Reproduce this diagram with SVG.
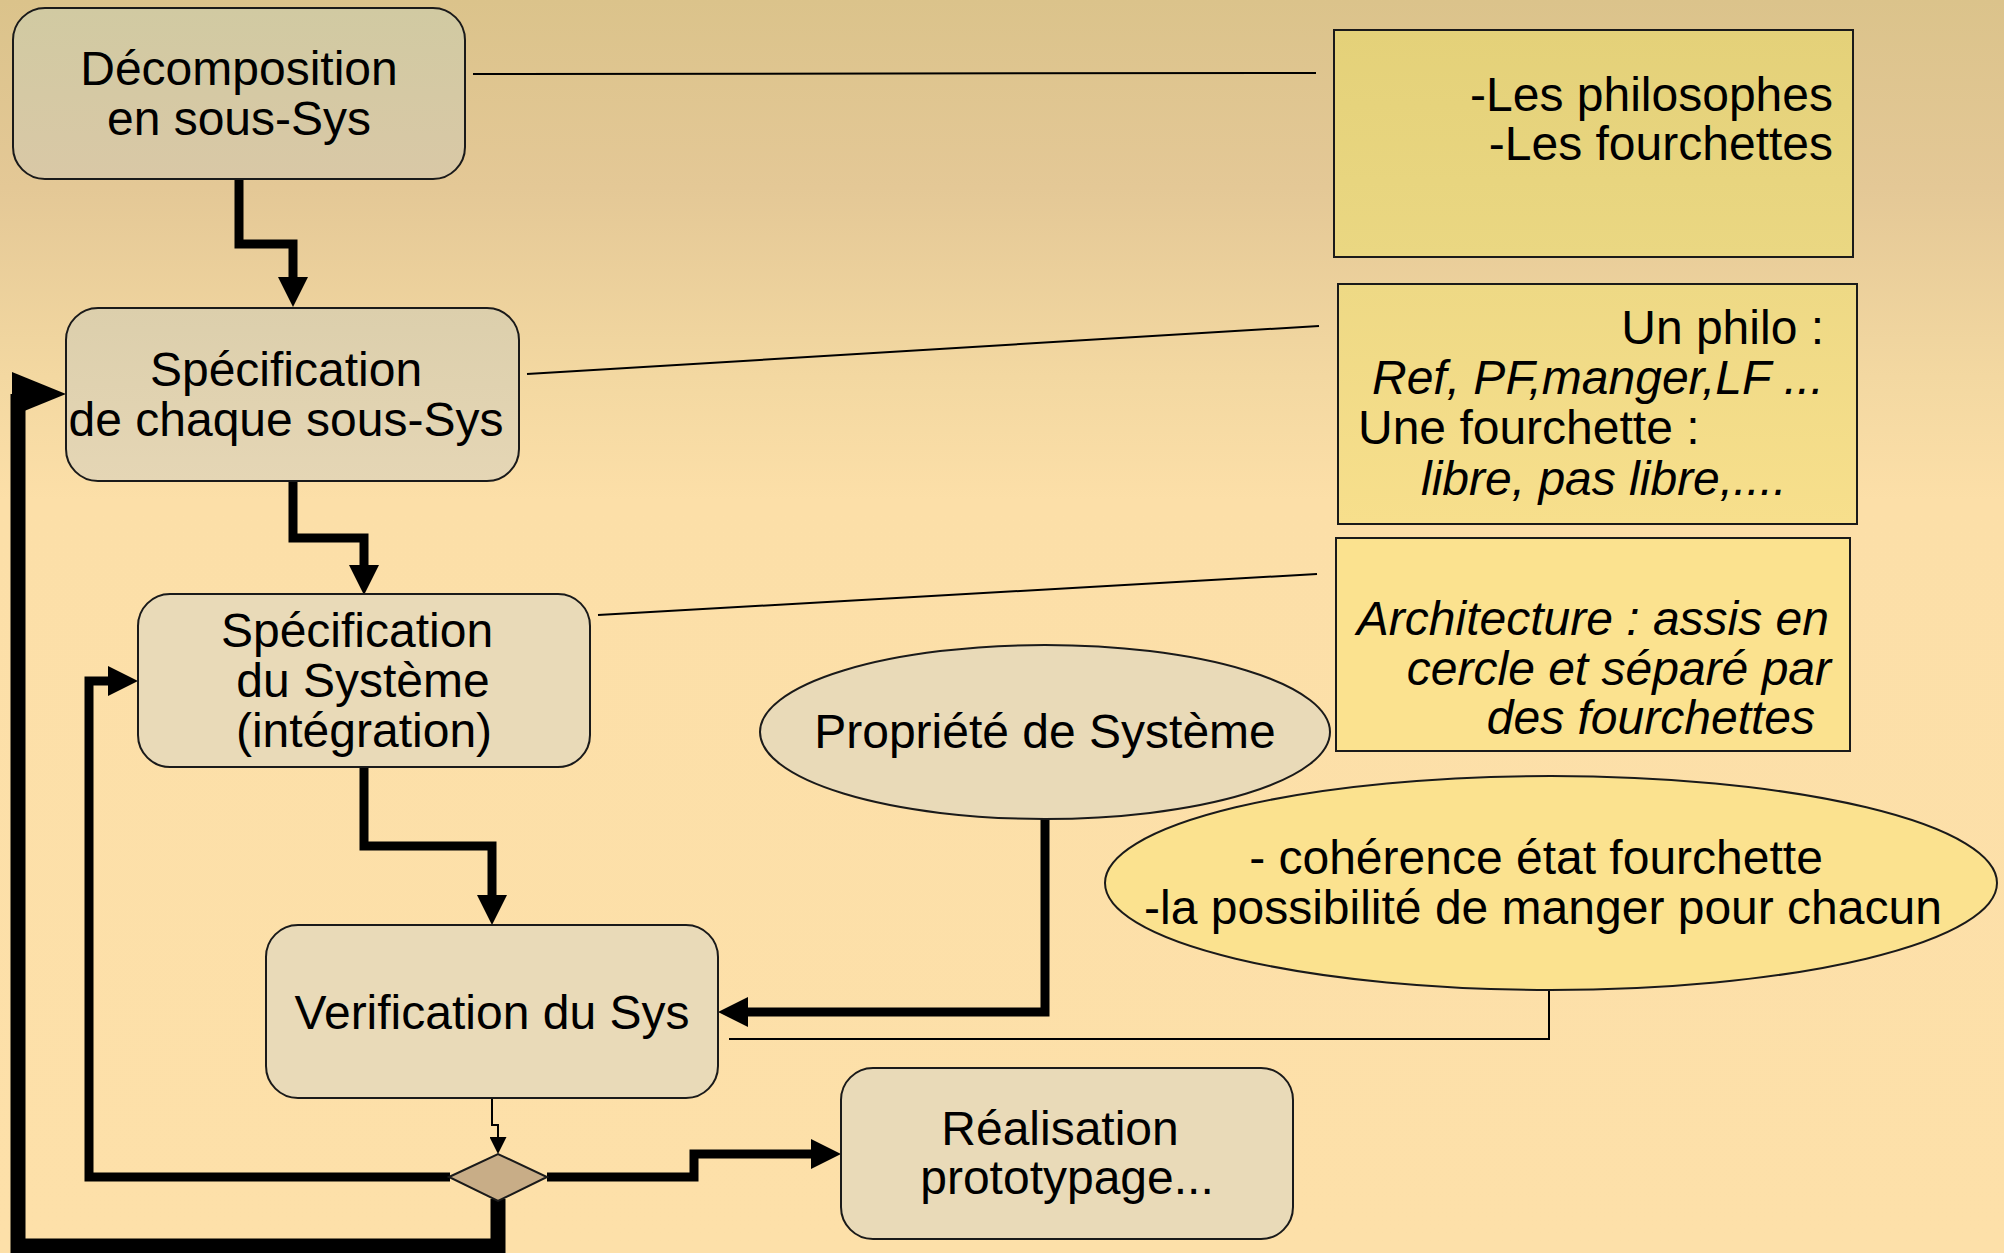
<svg xmlns="http://www.w3.org/2000/svg" width="2004" height="1253" viewBox="0 0 2004 1253">
  <defs>
    <linearGradient id="bg" x1="0" y1="0" x2="0" y2="1253" gradientUnits="userSpaceOnUse">
      <stop offset="0" stop-color="#dbc38b"/>
      <stop offset="0.15" stop-color="#e4c896"/>
      <stop offset="0.3" stop-color="#f3d8a1"/>
      <stop offset="0.4" stop-color="#fcdfa8"/>
      <stop offset="1" stop-color="#fde0a9"/>
    </linearGradient>
    <linearGradient id="g-top" x1="0" y1="0" x2="0" y2="1">
      <stop offset="0" stop-color="#d1caa2"/>
      <stop offset="1" stop-color="#d9c8a6"/>
    </linearGradient>
    <linearGradient id="g-sub" x1="0" y1="0" x2="0" y2="1">
      <stop offset="0" stop-color="#dccfac"/>
      <stop offset="1" stop-color="#e5d6b5"/>
    </linearGradient>
    <linearGradient id="y-top" x1="0" y1="0" x2="0" y2="1">
      <stop offset="0" stop-color="#e4d179"/>
      <stop offset="1" stop-color="#ead782"/>
    </linearGradient>
    <linearGradient id="y-mid" x1="0" y1="0" x2="0" y2="1">
      <stop offset="0" stop-color="#eed985"/>
      <stop offset="1" stop-color="#f7df8c"/>
    </linearGradient>
    <marker id="ah" markerUnits="userSpaceOnUse" markerWidth="30" markerHeight="30" viewBox="0 0 30 30" refX="2" refY="15" orient="auto">
      <path d="M0,0 L30,15 L0,30 z" fill="#000"/>
    </marker>
    <marker id="ah-small" markerUnits="userSpaceOnUse" markerWidth="17" markerHeight="17" viewBox="0 0 17 17" refX="1" refY="8.5" orient="auto">
      <path d="M0,0 L17,8.5 L0,17 z" fill="#000"/>
    </marker>
    <style>
      .node { stroke: #1a1a1a; stroke-width: 2; }
      .plain { fill: #e9dab8; }
      .note { stroke: #1a1a1a; stroke-width: 2; }
      .t { font-family: "Liberation Sans", Arial, sans-serif; font-size: 48px; fill: #000; }
      .c { text-anchor: middle; }
      .e { text-anchor: end; }
      .i { font-style: italic; }
      .flow { fill: none; stroke: #000; stroke-width: 9; stroke-linejoin: miter; marker-end: url(#ah); }
      .loop { fill: none; stroke: #000; stroke-width: 15; stroke-linejoin: miter; }
      .link { fill: none; stroke: #000; stroke-width: 2; }
    </style>
  </defs>

  <rect x="0" y="0" width="2004" height="1253" fill="url(#bg)"/>

  <!-- connectors -->
  <g id="connectors">
    <line class="link" x1="473" y1="74" x2="1316" y2="73"/>
    <line class="link" x1="527" y1="374" x2="1319" y2="326"/>
    <line class="link" x1="598" y1="615" x2="1317" y2="574"/>
    <path class="link" d="M1549,990 V1039 H729"/>

    <path class="flow" d="M239,180 V244 H293 V279"/>
    <path class="flow" d="M293,481 V538 H364 V567"/>
    <path class="flow" d="M364,767 V846 H492 V897"/>
    <path class="flow" d="M1045,819 V1012 H746"/>
    <path class="flow" d="M450,1177 H89 V681 H110"/>
    <path class="flow" d="M547,1177 H694 V1154 H813"/>

    <path fill="none" stroke="#000" stroke-width="2" d="M492,1098 V1125 H498 V1138" marker-end="url(#ah-small)"/>

    <path class="loop" d="M498,1199 V1246 H18 V394"/>
    <polygon points="12,372 66,394 12,416" fill="#000"/>
  </g>

  <!-- process steps -->
  <g id="decomposition">
    <rect class="node" x="13" y="8" width="452" height="171" rx="32" fill="url(#g-top)"/>
    <text class="t c" x="239" y="85">Décomposition</text>
    <text class="t c" x="239" y="135">en sous-Sys</text>
  </g>

  <g id="spec-sous-sys">
    <rect class="node" x="66" y="308" width="453" height="173" rx="32" fill="url(#g-sub)"/>
    <text class="t c" x="286" y="386">Spécification</text>
    <text class="t c" x="286" y="436">de chaque sous-Sys</text>
  </g>

  <g id="spec-systeme">
    <rect class="node plain" x="138" y="594" width="452" height="173" rx="32"/>
    <text class="t c" x="357" y="647">Spécification</text>
    <text class="t c" x="363" y="697">du Système</text>
    <text class="t c" x="364" y="747">(intégration)</text>
  </g>

  <g id="verification">
    <rect class="node plain" x="266" y="925" width="452" height="173" rx="32"/>
    <text class="t c" x="492" y="1029">Verification du Sys</text>
  </g>

  <g id="decision">
    <polygon class="node" points="449,1177 498,1154 547,1177 498,1201" fill="#c8ad87"/>
  </g>

  <g id="realisation">
    <rect class="node plain" x="841" y="1068" width="452" height="171" rx="32"/>
    <text class="t c" x="1060" y="1145">Réalisation</text>
    <text class="t c" x="1067" y="1194">prototypage...</text>
  </g>

  <g id="propriete">
    <ellipse class="node plain" cx="1045" cy="732" rx="285" ry="87"/>
    <text class="t c" x="1045" y="748">Propriété de Système</text>
  </g>

  <!-- notes -->
  <g id="note-sous-sys">
    <rect class="note" x="1334" y="30" width="519" height="227" fill="url(#y-top)"/>
    <text class="t e" x="1833" y="111">-Les philosophes</text>
    <text class="t e" x="1833" y="160">-Les fourchettes</text>
  </g>

  <g id="note-spec">
    <rect class="note" x="1338" y="284" width="519" height="240" fill="url(#y-mid)"/>
    <text class="t e" x="1824" y="344">Un philo :</text>
    <text class="t i" x="1372" y="394">Ref, PF,manger,LF ...</text>
    <text class="t" x="1358" y="444">Une fourchette :</text>
    <text class="t i" x="1421" y="495">libre, pas libre,....</text>
  </g>

  <g id="note-archi">
    <rect class="note" x="1336" y="538" width="514" height="213" fill="#fbe28f"/>
    <text class="t e i" x="1829" y="635">Architecture : assis en</text>
    <text class="t e i" x="1831" y="685">cercle et séparé par</text>
    <text class="t e i" x="1815" y="734">des fourchettes</text>
  </g>

  <g id="note-proprietes">
    <ellipse class="note" cx="1551" cy="883" rx="446" ry="107" fill="#fbe28f"/>
    <text class="t c" x="1536" y="874">- cohérence état fourchette</text>
    <text class="t c" x="1543" y="924">-la possibilité de manger pour chacun</text>
  </g>
</svg>
